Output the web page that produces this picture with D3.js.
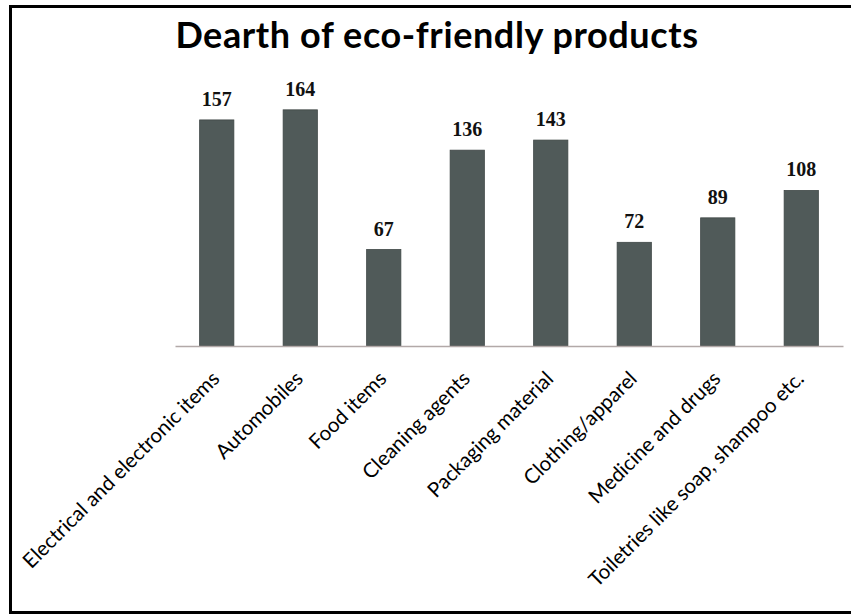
<!DOCTYPE html>
<html>
<head>
<meta charset="utf-8">
<script src="https://cdn.jsdelivr.net/npm/d3@7/dist/d3.min.js"></script>
<style>
  html, body { margin: 0; padding: 0; background: #fff; }
  svg { display: block; }
</style>
</head>
<body>
<svg id="chart" width="851" height="614"></svg>
<script>
// Categories and counts
const categories = [
  "Electrical and electronic items",
  "Automobiles",
  "Food items",
  "Cleaning agents",
  "Packaging material",
  "Clothing/apparel",
  "Medicine and drugs",
  "Toiletries like soap, shampoo etc."
];
const values = [157, 164, 67, 136, 143, 72, 89, 108];
const titleText = "Dearth of eco-friendly products";

const svg = d3.select("#chart");
const W = 851, H = 614;

// Frame around the chart area (open on the right edge)
svg.append("path")
  .attr("d", `M ${W + 5} 6.5 L 10.5 6.5 L 10.5 612.5 L ${W + 5} 612.5`)
  .attr("fill", "none")
  .attr("stroke", "#000")
  .attr("stroke-width", 3);

const plot = { left: 175, right: 843, bottom: 346 };

const x = d3.scaleBand()
  .domain(categories)
  .range([plot.left, plot.right])
  .paddingInner(0.59)
  .paddingOuter(0.295);

const y = d3.scaleLinear()
  .domain([0, 180])
  .range([plot.bottom, plot.bottom - 180 * 1.44]);

// Title
svg.append("text")
  .attr("x", 437)
  .attr("y", 48)
  .attr("text-anchor", "middle")
  .attr("font-family", "Lato, 'Open Sans', sans-serif")
  .attr("font-weight", "bold")
  .attr("font-size", 36)
  .attr("letter-spacing", 0.6)
  .attr("fill", "#000")
  .text(titleText);

// Bars
svg.append("g").selectAll("rect")
  .data(values)
  .join("rect")
  .attr("x", (d, i) => x(categories[i]))
  .attr("y", d => y(d))
  .attr("width", x.bandwidth())
  .attr("height", d => y(0) - y(d))
  .attr("fill", "#505a59")
  .attr("stroke", "#3f4746")
  .attr("stroke-width", 0.8);

// Value labels above bars
svg.append("g").selectAll("text")
  .data(values)
  .join("text")
  .attr("x", (d, i) => x(categories[i]) + x.bandwidth() / 2)
  .attr("y", d => y(d) - 14)
  .attr("text-anchor", "middle")
  .attr("font-family", "'Liberation Serif', 'DejaVu Serif', serif")
  .attr("font-weight", "bold")
  .attr("font-size", 20)
  .attr("fill", "#111")
  .text(d => d);

// Category axis
const xAxis = svg.append("g")
  .attr("transform", `translate(0,${plot.bottom})`)
  .call(d3.axisBottom(x).tickSize(0).tickPadding(0));
xAxis.select(".domain")
  .attr("stroke", "#b2a9a8")
  .attr("stroke-width", 1.5);
xAxis.selectAll(".tick text")
  .attr("font-family", "Lato, 'Open Sans', sans-serif")
  .attr("font-size", 20.5)
  .attr("fill", "#000")
  .attr("text-anchor", "end")
  .attr("dy", 0)
  .attr("transform", "translate(4,34) rotate(-45)");
</script>
</body>
</html>
